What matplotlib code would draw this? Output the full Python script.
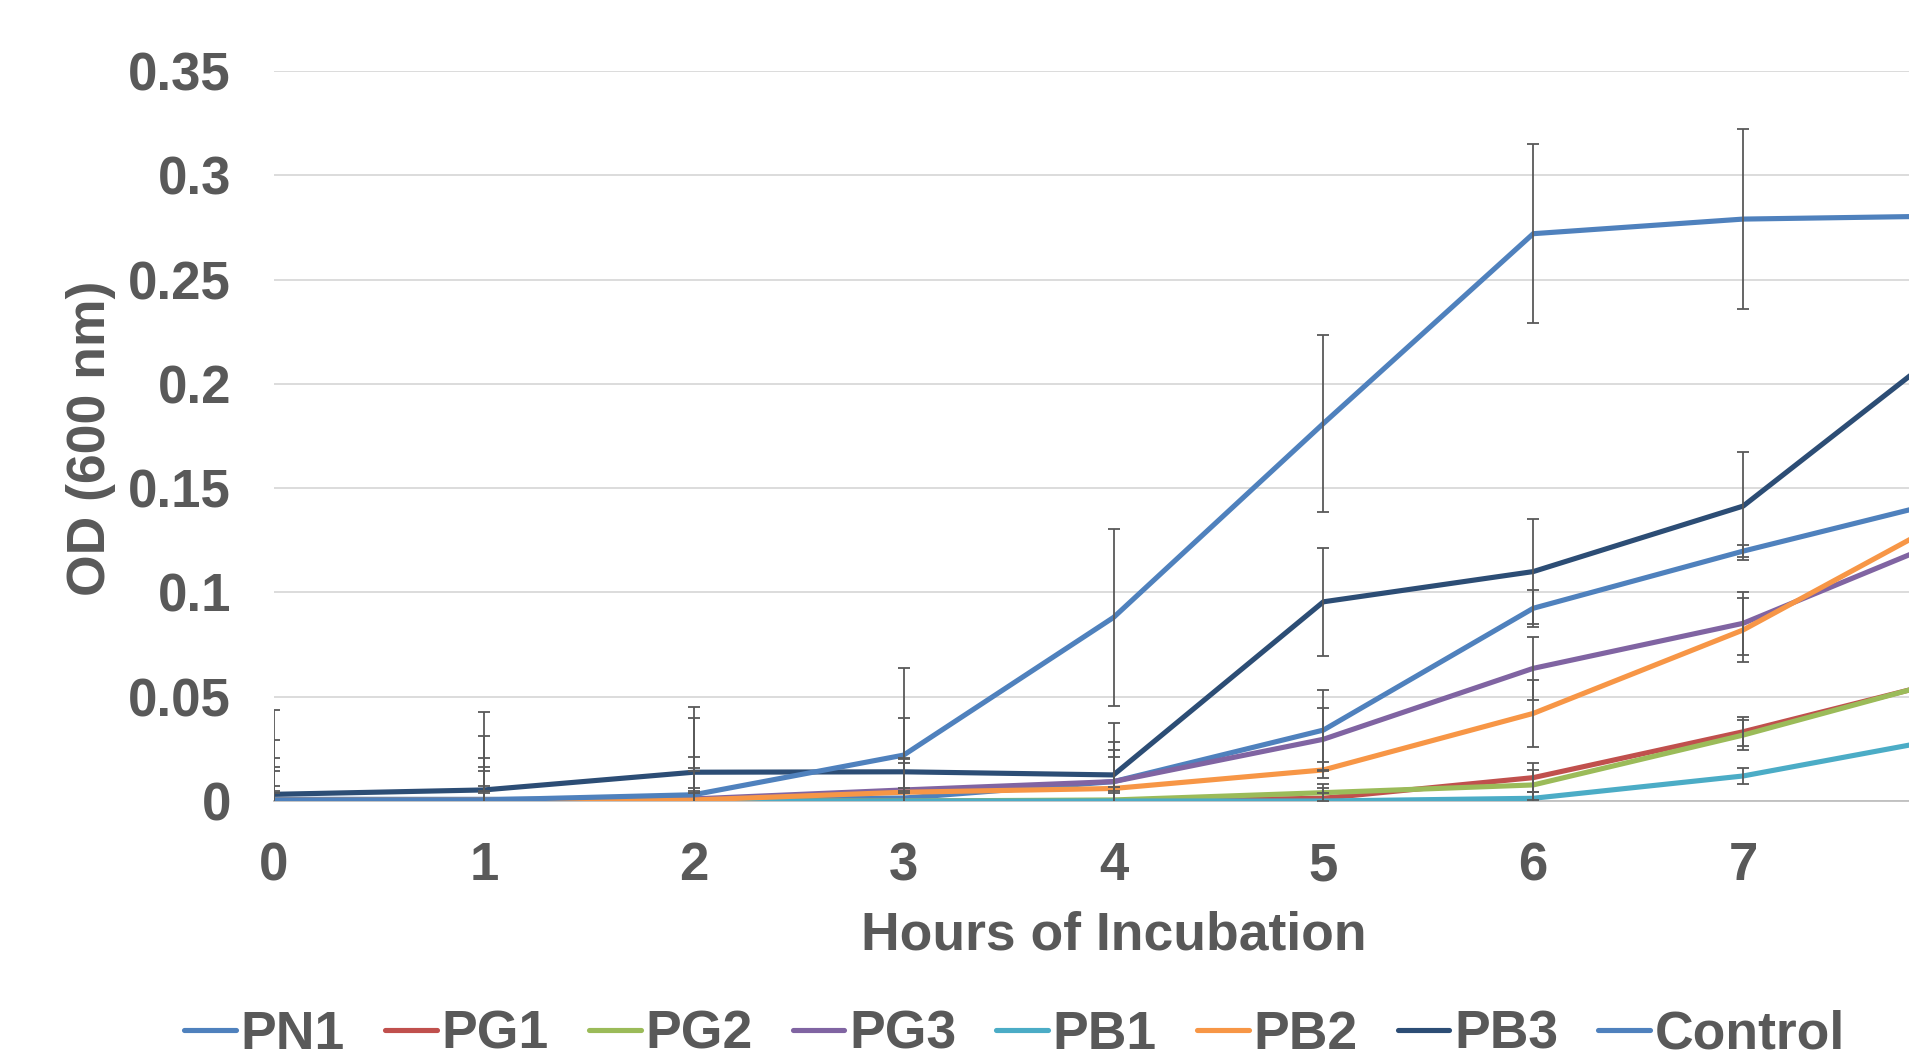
import matplotlib.pyplot as plt
from matplotlib.ticker import FuncFormatter

plt.rcParams['font.family'] = ['Liberation Sans', 'DejaVu Sans']
plt.rcParams['font.weight'] = 'bold'

hours = [0, 1, 2, 3, 4, 5, 6, 7, 8]
series_names = ['PN1', 'PG1', 'PG2', 'PG3', 'PB1', 'PB2', 'PB3', 'Control']

PN1 = [0.0008, 0.0008, 0.001, 0.0014, 0.0093, 0.034, 0.0924, 0.1198, 0.1448]
PG1 = [0, 0, 0, 0, 0, 0.0013, 0.0112, 0.0332, 0.0585]
PG2 = [0, 0, 0, 0, 0.0005, 0.004, 0.0077, 0.0316, 0.0589]
PG3 = [0, 0, 0.001, 0.0053, 0.0093, 0.0296, 0.0636, 0.0852, 0.1267]
PB1 = [0, 0, 0, 0, 0, 0, 0.0013, 0.012, 0.0307]
PB2 = [0.0005, 0.0005, 0.0005, 0.0042, 0.006, 0.0149, 0.042, 0.082, 0.1366]
PB3 = [0.0032, 0.0053, 0.0138, 0.014, 0.0125, 0.0955, 0.110, 0.1414, 0.22]
Control = [0.0005, 0.0005, 0.003, 0.022, 0.088, 0.181, 0.272, 0.279, 0.2805]

err_PN1 = [0.02, 0.02, 0.02, 0.019, 0.019, 0.019, 0.009, 0.003, 0.01]
err_PG1 = [0.005, 0.005, 0.005, 0.005, 0.005, 0.005, 0.007, 0.007, 0.008]
err_PG2 = [0.007, 0.007, 0.006, 0.006, 0.006, 0.004, 0.007, 0.007, 0.008]
err_PG3 = [0.0165, 0.0165, 0.015, 0.015, 0.015, 0.015, 0.015, 0.015, 0.015]
err_PB1 = [0.004, 0.004, 0.004, 0.004, 0.004, 0.004, 0.003, 0.0037, 0.004]
err_PB2 = [0.014, 0.014, 0.014, 0.014, 0.015, 0.004, 0.016, 0.0155, 0.016]
err_PB3 = [0.026, 0.026, 0.026, 0.026, 0.025, 0.026, 0.025, 0.026, 0.026]
err_Control = [0.043, 0.042, 0.042, 0.042, 0.0425, 0.0425, 0.043, 0.043, 0.043]

values = [PN1, PG1, PG2, PG3, PB1, PB2, PB3, Control]
errors = [err_PN1, err_PG1, err_PG2, err_PG3, err_PB1, err_PB2, err_PB3, err_Control]
colors = ['#4F81BD', '#C0504D', '#9BBB59', '#8064A2', '#4BACC6', '#F79646', '#2C4D75', '#4F81BD']

text_color = '#595959'
fontsize = 38

fig = plt.figure(figsize=(19.09, 10.59), dpi=100)
# axes runs past the right edge of the figure, like the cropped original
ax = fig.add_axes([274 / 1909, 258 / 1059, 1679 / 1909, 730 / 1059])

for name, vals, c in zip(series_names, values, colors):
    ax.plot(hours, vals, '-', color=c, lw=3.7, label=name, zorder=3,
            solid_joinstyle='round', solid_capstyle='round')
for vals, errs in zip(values, errors):
    ax.errorbar(hours, vals, yerr=errs, fmt='none', ecolor=text_color, elinewidth=1.3,
                capsize=4, capthick=1.3, zorder=4)

ax.set_xlim(0, 8)
ax.set_ylim(0, 0.35)
ax.set_xticks(hours[:-1])  # the "8" label falls outside the cropped picture
ax.set_yticks([0, 0.05, 0.1, 0.15, 0.2, 0.25, 0.3, 0.35])
ax.yaxis.set_major_formatter(FuncFormatter(lambda v, p: '%g' % round(v, 2)))
ax.grid(axis='y', color='#D9D9D9', lw=1.3, zorder=0)
ax.set_axisbelow(True)
for s in ['top', 'right', 'left']:
    ax.spines[s].set_visible(False)
ax.spines['bottom'].set_color('#BFBFBF')
ax.spines['bottom'].set_linewidth(1.3)
ax.tick_params(axis='both', length=0, labelsize=fontsize, labelcolor=text_color)
ax.tick_params(axis='x', pad=29)
ax.tick_params(axis='y', pad=31)

ax.set_xlabel('Hours of Incubation', fontsize=38.5, color=text_color, fontweight='bold')
ax.xaxis.label.set_verticalalignment('center')
ax.xaxis.set_label_coords(0.5, -0.1836)
ax.set_ylabel('OD (600 nm)', fontsize=38.5, color=text_color, fontweight='bold')
ax.yaxis.label.set_verticalalignment('center')
ax.yaxis.set_label_coords(-0.109, 0.497)

handles, labels = ax.get_legend_handles_labels()
leg = fig.legend(handles, labels, loc='center', bbox_to_anchor=(0.5315, 0.023), ncol=8,
                 frameon=False, fontsize=38.5, handlelength=0.965, handletextpad=0.09,
                 columnspacing=0.75, borderaxespad=0)
for t in leg.get_texts():
    t.set_color(text_color)

plt.savefig('out.png', dpi=100)
